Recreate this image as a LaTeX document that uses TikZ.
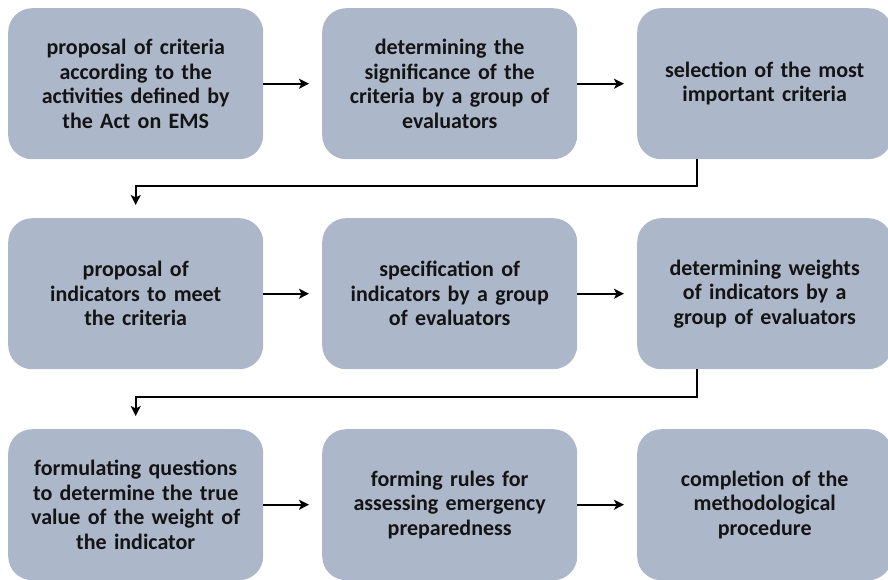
\documentclass[tikz,border=0pt]{standalone}
\usepackage{fontspec}
\setmainfont{Carlito}
\usetikzlibrary{arrows.meta,calc}
\definecolor{boxfill}{HTML}{ADB7CA}
\definecolor{txt}{HTML}{141414}
\tikzset{
  stepbox/.style={fill=boxfill, rounded corners=24pt, minimum width=255pt, minimum height=151pt,
    text width=240pt, align=center, font=\bfseries\fontsize{22}{24.5}\selectfont, text=txt, inner sep=0pt, anchor=north west},
  conn/.style={line width=2pt, -{Stealth[length=10pt,width=10pt,inset=2.5pt]}},
}
\begin{document}
\begin{tikzpicture}[x=1pt,y=-1pt]
\useasboundingbox (0,0) rectangle (888,580);
\node[stepbox] (a1) at (8,8) {proposal of criteria\\according to the\\activities defined by\\the Act on EMS};
\node[stepbox] (a2) at (322,8) {determining the\\significance of the\\criteria by a group of\\evaluators};
\node[stepbox] (a3) at (637,8) {selection of the most\\important criteria};
\node[stepbox] (b1) at (8,218) {proposal of\\indicators to meet\\the criteria};
\node[stepbox] (b2) at (322,218) {specification of\\indicators by a group\\of evaluators};
\node[stepbox] (b3) at (637,218) {determining weights\\of indicators by a\\group of evaluators};
\node[stepbox] (c1) at (8,429) {formulating questions\\to determine the true\\value of the weight of\\the indicator};
\node[stepbox] (c2) at (322,429) {forming rules for\\assessing emergency\\preparedness};
\node[stepbox] (c3) at (637,429) {completion of the\\methodological\\procedure};
\draw[conn] (a1.east) -- ($(a2.west)+(-13,0)$);
\draw[conn] (a2.east) -- ($(a3.west)+(-13,0)$);
\draw[conn] (b1.east) -- ($(b2.west)+(-13,0)$);
\draw[conn] (b2.east) -- ($(b3.west)+(-13,0)$);
\draw[conn] (c1.east) -- ($(c2.west)+(-13,0)$);
\draw[conn] (c2.east) -- ($(c3.west)+(-13,0)$);
\coordinate (k1) at ($(a3.south west)+(60,0)$);
\coordinate (k2) at ($(b3.south west)+(60,0)$);
\draw[conn] (k1) -- ++(0,27) -| ($(b1.north)+(0,-13)$);
\draw[conn] (k2) -- ++(0,28) -| ($(c1.north)+(0,-13)$);
\end{tikzpicture}
\end{document}
